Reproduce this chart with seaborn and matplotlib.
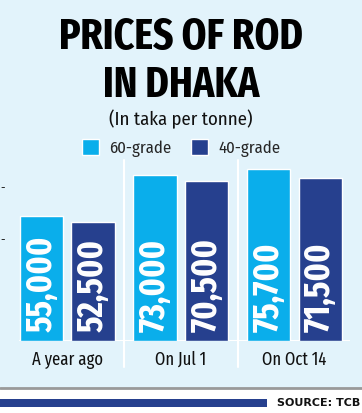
# %%
## Prices of rod in Dhaka

import pandas as pd
import seaborn as sns
import matplotlib.pyplot as plt

# %%
## Data

periodos = ['A year ago', 'On Jul 1', 'On Oct 14']
grados = ['60-grade', '40-grade']
precios_60 = [55000, 73000, 75700]
precios_40 = [52500, 70500, 71500]
etiquetas_60 = ['55,000', '73,000', '75,700']
etiquetas_40 = ['52,500', '70,500', '71,500']

df = pd.DataFrame({
    'Periodo': periodos * 2,
    'Grado': [grados[0]] * 3 + [grados[1]] * 3,
    'Precio': precios_60 + precios_40,
})

# %%
## Estilo general

sns.set_theme(style='white')
plt.rcParams['font.family'] = ['Fira Sans Condensed', 'DejaVu Sans']

fondo = '#E2F3FB'
celeste = '#0AAEEB'
azul = '#26408E'
titulo_font = ['Fira Sans Extra Condensed', 'DejaVu Sans']

fig = plt.figure(figsize=(3.62, 4.13), dpi=100)
fig.patch.set_facecolor(fondo)
ax = fig.add_axes([19/362, 72/413, 331/362, 181/413])
ax.set_facecolor(fondo)

sns.barplot(data=df, x='Periodo', y='Precio', hue='Grado',
            palette=[celeste, azul], width=0.908, gap=0.156,
            saturation=1, ax=ax, legend=True)

ax.set_ylim(0, 79600)
ax.set_xlim(-0.427, 2.489)
for s in ax.spines.values():
    s.set_visible(False)
ax.set_xlabel('')
ax.set_ylabel('')
ax.set_xticks(range(3))
ax.set_xticklabels(periodos, fontsize=13, color='#111111', family=titulo_font)
ax.tick_params(axis='x', length=0, pad=7)
ax.set_yticks([45500, 68000])
ax.set_yticklabels(['-', '-'], fontsize=9, color='#222222', family='DejaVu Sans')
ax.tick_params(axis='y', length=0, pad=10)

# lineas blancas
ax.axhline(0, color='white', lw=1.5, zorder=0)
for xs in [0.5, 1.5]:
    ax.axvline(xs, ymin=-0.144, ymax=1, color='white', lw=1.5, clip_on=False, zorder=0)

# etiquetas dentro de las barras
etiquetas = etiquetas_60 + etiquetas_40
barras = [p for p in ax.patches if p.get_height() > 0]
for p, txt in zip(barras, etiquetas):
    ax.text(p.get_x() + p.get_width() / 2, 3800, txt, rotation=90,
            ha='center', va='bottom', color='white', fontsize=26,
            fontweight='bold', family=titulo_font)

sns.move_legend(ax, 'center', bbox_to_anchor=(0.5, 1 - 148/413),
                bbox_transform=fig.transFigure, ncol=2, frameon=False,
                title=None, fontsize=12, handlelength=1.05, handleheight=1.05,
                handletextpad=0.6, columnspacing=1.15)

# titulos
fig.text(0.5, 1 - 38/413, 'PRICES OF ROD', ha='center', va='center',
         fontsize=31, fontweight='bold', color='black', family=titulo_font)
fig.text(0.5, 1 - 86/413, 'IN DHAKA', ha='center', va='center',
         fontsize=31, fontweight='bold', color='black', family=titulo_font)
fig.text(0.5, 1 - 119/413, '(In taka per tonne)', ha='center', va='center',
         fontsize=13.5, color='#111111')

# pie
fig.patches.append(plt.Rectangle((0, 0), 1, 1 - 388/413, transform=fig.transFigure,
                                 facecolor='white', edgecolor='none', zorder=0))
fig.lines.append(plt.Line2D([0, 1], [1 - 388/413] * 2, transform=fig.transFigure,
                            color='#999999', lw=2))
fig.patches.append(plt.Rectangle((0, 1 - 407/413), 267/362, 8/413, transform=fig.transFigure,
                                 facecolor=azul, edgecolor='none'))
fig.text(360/362, 1 - 403/413, 'SOURCE: TCB', ha='right', va='center',
         fontsize=8, fontweight='bold', family='DejaVu Sans', color='#111111')

plt.savefig('out.png', dpi=100, facecolor=fondo)
